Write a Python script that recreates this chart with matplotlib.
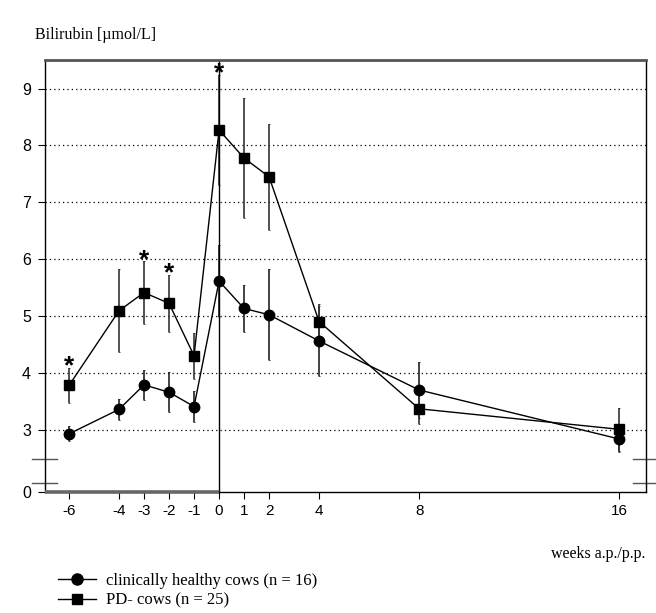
import matplotlib
matplotlib.use("Agg")
import matplotlib.pyplot as plt
from matplotlib.lines import Line2D
import numpy as np

# weeks ante / post partum
weeks = [-6, -4, -3, -2, -1, 0, 1, 2, 4, 8, 16]

healthy = [2.94, 3.37, 3.80, 3.67, 3.42, 5.62, 5.14, 5.03, 4.57, 3.71, 2.85]
healthy_err = [0.13, 0.18, 0.26, 0.35, 0.27, 0.63, 0.42, 0.80, 0.62, 0.49, 0.23]

pd_cows = [3.79, 5.10, 5.42, 5.23, 4.31, 8.27, 7.78, 7.45, 4.91, 3.38, 3.02]
pd_err = [0.31, 0.73, 0.55, 0.50, 0.40, 0.97, 1.06, 0.93, 0.30, 0.27, 0.38]

# weeks with significant difference
signif_weeks = [-6, -3, -2, 0]

ytick_vals = [3, 4, 5, 6, 7, 8, 9]
y_bottom = 1.92   # bottom of the broken axis, labelled "0"
y_top = 9.5

serif = ["Liberation Serif", "DejaVu Serif"]
sans = ["Liberation Sans", "DejaVu Sans"]

fig = plt.figure(figsize=(6.56, 6.13), dpi=100)
ax = fig.add_axes([0.0686, 0.1974, 0.9157, 0.7047])

ax.set_xlim(-6.96, 17.06)
ax.set_ylim(y_bottom, y_top)

# dotted gridlines
for v in ytick_vals:
    ax.axhline(v, color="black", lw=0.9, ls=(0, (1, 2.5)), zorder=1)

# error bars
ax.errorbar(weeks, healthy, yerr=healthy_err, fmt="none", ecolor="#222222",
            elinewidth=1.2, capsize=1, capthick=0.6, zorder=2)
ax.errorbar(weeks, pd_cows, yerr=pd_err, fmt="none", ecolor="#333333",
            elinewidth=1.2, capsize=1, capthick=0.6, zorder=2)

ax.plot(weeks, healthy, color="black", lw=1, marker="o", ms=7.5, zorder=3)
ax.plot(weeks, pd_cows, color="black", lw=1, marker="s", ms=6.5, zorder=3)

# significance stars
for w in signif_weeks:
    i = weeks.index(w)
    ax.text(w, pd_cows[i] + pd_err[i] + 0.02, "*", ha="center", va="center",
            fontsize=19, fontweight="bold", family=sans, zorder=4)

# partus line
ax.axvline(0, color="black", lw=1, zorder=2)

# frame
for s in ["left", "right"]:
    ax.spines[s].set_linewidth(1)
ax.spines["top"].set_color("#555555")
ax.spines["top"].set_linewidth(2)
ax.spines["bottom"].set_visible(False)
ax.plot([-6.96, 0], [y_bottom, y_bottom], color="#666666", lw=2.6,
        clip_on=False, solid_capstyle="butt", zorder=5)
ax.plot([0, 17.06], [y_bottom, y_bottom], color="black", lw=1,
        clip_on=False, zorder=5)

# axis break marks
for yb in [2.50, 2.08]:
    ax.plot([-7.48, -6.48], [yb, yb], color="#555555", lw=1, clip_on=False)
    ax.plot([16.55, 17.6], [yb, yb], color="#555555", lw=1, clip_on=False)

ax.set_xticks(weeks)
ax.set_xticklabels([str(w) for w in weeks], family=sans, fontsize=11)
ax.set_yticks([y_bottom] + ytick_vals)
ax.set_yticklabels(["0"] + [str(v) for v in ytick_vals], family=sans, fontsize=11.5)
ax.tick_params(axis="x", direction="out", length=5, width=0.8, pad=4)
ax.tick_params(axis="y", direction="out", length=5, width=0.8, pad=5)

fig.text(35 / 656, 1 - 35 / 613, "Bilirubin [\u00b5mol/L]", family=serif,
         fontsize=11.5, ha="left", va="center")
fig.text(645 / 656, 1 - 554 / 613, "weeks a.p./p.p.", family=serif,
         fontsize=11.5, ha="right", va="center")

handles = [
    Line2D([], [], color="black", lw=1, marker="o", ms=8),
    Line2D([], [], color="black", lw=1, marker="s", ms=7),
]
fig.legend(handles, ["clinically healthy cows (n = 16)", "PD- cows (n = 25)"],
           loc="upper left", bbox_to_anchor=(46 / 656, 1 - 561 / 613),
           frameon=False, prop={"family": serif, "size": 12},
           handlelength=2.3, handletextpad=0.6, labelspacing=0.25,
           borderpad=0.2)

fig.savefig("out.png", dpi=100)
